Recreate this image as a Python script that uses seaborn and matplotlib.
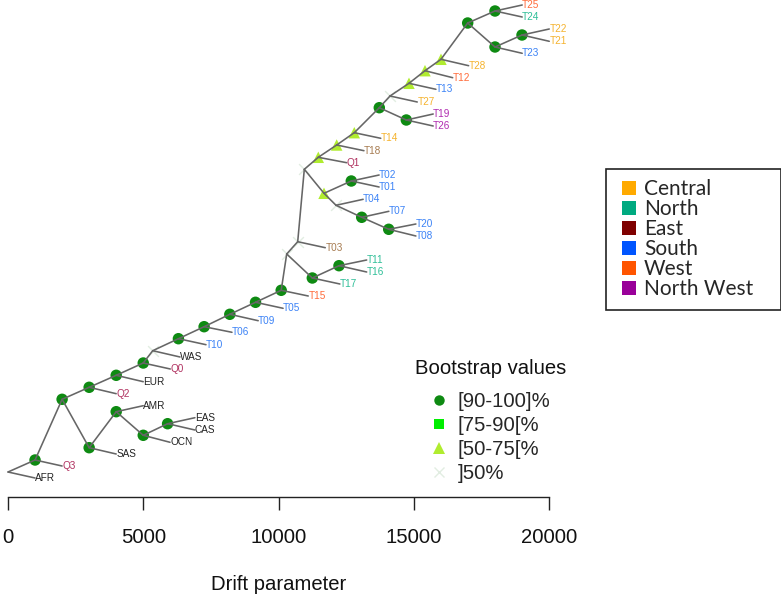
import matplotlib
matplotlib.use('Agg')
import matplotlib.pyplot as plt
from matplotlib.lines import Line2D
import pandas as pd
import seaborn as sns

# --- internal nodes of the tree ---
node_names = ['root', 'n01', 'n02', 'n03', 'n04', 'n05', 'n06', 'n07', 'n08', 'n09', 'n10', 'n11',
              'n12', 'n13', 'n14', 'n15', 'n16', 'n17', 'n18', 'n19', 'n20', 'n21', 'n22', 'n23',
              'n24', 'n25', 'n26', 'n27', 'n28', 'n29', 'n30', 'n31', 'n32', 'n33', 'n34',
              'n35', 'n36', 'n37', 'n38']
node_drift = [0, 1000, 2000, 3000, 4000, 5000, 5350, 6300, 7250, 8200, 9150, 10100,
              10303, 10710, 11250, 12236, 10954, 11471, 12151, 12802, 13726, 14725, 14122, 14824,
              15416, 16007, 16994, 18004, 18004, 19002, 11682, 12691, 12126, 13076, 14074,
              3000, 4000, 5000, 5900]
node_pos = [472, 460, 399.3, 387.3, 375.3, 363, 350.7, 338.7, 326.7, 314.3, 302.3, 290.3,
            254, 241.7, 278, 265.7, 169.3, 157.3, 145, 132.7, 107.7, 120, 96, 83.3,
            70.7, 59.3, 23, 11, 47, 35, 193.3, 181, 205.3, 217.3, 229.3,
            447.7, 411.7, 435.3, 423.7]
node_parent = [None, 'root', 'n01', 'n02', 'n03', 'n04', 'n05', 'n06', 'n07', 'n08', 'n09', 'n10',
               'n11', 'n12', 'n12', 'n14', 'n13', 'n16', 'n17', 'n18', 'n19', 'n20', 'n20', 'n22',
               'n23', 'n24', 'n25', 'n26', 'n26', 'n28', 'n16', 'n30', 'n30', 'n32', 'n33',
               'n02', 'n35', 'n36', 'n37']
node_support = ['none', '90', '90', '90', '90', '90', 'low', '90', '90', '90', '90', '90',
                'low', 'low', '90', '90', 'low', '50', '50', '50', '90', '90', 'low', '50',
                '50', '50', '90', '90', '90', '90', '50', '90', 'low', '90', '90',
                '90', '90', '90', '90']

# --- tips ---
tip_names = ['AFR', 'Q3', 'Q2', 'EUR', 'Q0', 'WAS', 'T10', 'T06', 'T09', 'T05', 'T15', 'T03', 'T17',
             'T11', 'T16', 'Q1', 'T18', 'T14', 'T02', 'T01', 'T04', 'T07', 'T20', 'T08', 'T19', 'T26',
             'T27', 'T13', 'T12', 'T28', 'T25', 'T24', 'T23', 'T22', 'T21', 'SAS', 'AMR', 'OCN', 'EAS', 'CAS']
tip_drift = [1000, 2000, 4000, 5000, 6000, 6360, 7320, 8280, 9250, 10170, 11100, 11730, 12270,
             13260, 13260, 12520, 13160, 13780, 13720, 13720, 13130, 14080, 15080, 15080, 15720, 15720,
             15130, 15820, 16440, 17030, 19010, 19010, 19010, 20010, 20010, 4000, 5000, 5990, 6910, 6910]
tip_pos = [478, 466, 393.7, 381.7, 369, 357, 344.7, 332.3, 320.7, 308.3, 296, 247.7, 284,
           260, 272, 162.7, 150.7, 138.3, 175, 187, 199.3, 211.3, 224, 236, 114, 126,
           102, 89.3, 77.7, 65.7, 5, 17, 53.3, 29, 41.3, 454, 405.7, 442.3, 417.7, 430]
tip_parent = ['root', 'n01', 'n03', 'n04', 'n05', 'n06', 'n07', 'n08', 'n09', 'n10', 'n11', 'n13', 'n14',
              'n15', 'n15', 'n17', 'n18', 'n19', 'n31', 'n31', 'n32', 'n33', 'n34', 'n34', 'n21', 'n21',
              'n22', 'n23', 'n24', 'n25', 'n27', 'n27', 'n28', 'n29', 'n29', 'n35', 'n36', 'n37', 'n38', 'n38']
tip_group = ['Ref', 'Q', 'Q', 'Ref', 'Q', 'Ref', 'South', 'South', 'South', 'South', 'West', 'East', 'North',
             'North', 'North', 'Q', 'East', 'Central', 'South', 'South', 'South', 'South', 'South', 'South',
             'North West', 'North West', 'Central', 'South', 'West', 'Central', 'West', 'North', 'South',
             'Central', 'Central', 'Ref', 'Ref', 'Ref', 'Ref', 'Ref']

# legend content
region_labels = ['Central', 'North', 'East', 'South', 'West', 'North West']
region_colors = ['#FFAA00', '#00AA80', '#7F0000', '#0055FF', '#FF5500', '#990099']
support_keys = ['90', '75', '50', 'low']
support_labels = ['[90-100]%', '[75-90[%', '[50-75[%', ']50%']
support_colors = ['#0E8A12', '#00EE00', '#B0EC2F', '#E2EDE2']
support_markers = ['o', 's', '^', 'x']
xticks = [0, 5000, 10000, 15000, 20000]

text_colors = {'Ref': '#222222', 'Q': '#B0305F', 'East': '#A67B50', 'Central': '#F5B32E', 'North': '#2FBF98',
               'South': '#3B82F6', 'West': '#FF6B3A', 'North West': '#B02CB0'}

nodes = pd.DataFrame({'name': node_names, 'drift': node_drift, 'pos': node_pos,
                      'parent': node_parent, 'support': node_support})
tips = pd.DataFrame({'name': tip_names, 'drift': tip_drift, 'pos': tip_pos,
                     'parent': tip_parent, 'group': tip_group})

# long table of branches, two rows per branch
lookup = nodes.set_index('name')
rows = []
for table in (nodes[nodes['parent'].notna()], tips):
    for _, r in table.iterrows():
        p = lookup.loc[r['parent']]
        rows.append({'edge': r['name'], 'drift': p['drift'], 'pos': p['pos']})
        rows.append({'edge': r['name'], 'drift': r['drift'], 'pos': r['pos']})
edges = pd.DataFrame(rows)

sns.set_style('white')
fig = plt.figure(figsize=(7.81, 5.96), dpi=100)
ax = fig.add_axes([0, 0, 1, 1])

shown = nodes[nodes['support'] != 'none']
sns.scatterplot(data=shown[shown['support'] != 'low'], x='drift', y='pos', hue='support', style='support',
                hue_order=support_keys, style_order=support_keys,
                palette=dict(zip(support_keys, support_colors)),
                markers={'90': 'o', '75': 's', '50': '^', 'low': 'X'},
                s=68, linewidth=0, legend=False, ax=ax)
sns.scatterplot(data=shown[shown['support'] == 'low'], x='drift', y='pos', color=support_colors[3],
                marker='x', s=60, linewidth=1, legend=False, ax=ax)
sns.lineplot(data=edges, x='drift', y='pos', units='edge', estimator=None, sort=False,
             color='#666666', linewidth=1.15, legend=False, ax=ax)

for _, t in tips.iterrows():
    ax.text(t['drift'], t['pos'], t['name'], color=text_colors[t['group']], fontsize=7.2,
            family='Liberation Sans', ha='left', va='center')

# plot area is the whole figure, mapped so the tree sits where it should
ax.set_xlim(-296, 28577)
ax.set_ylim(596, 0)
ax.set_ylabel('')
ax.set_yticks([])
for side in ['top', 'left', 'right']:
    ax.spines[side].set_visible(False)
ax.spines['bottom'].set_position(('data', 497))
ax.spines['bottom'].set_bounds(0, 20000)
ax.spines['bottom'].set_linewidth(1)
ax.spines['bottom'].set_color('#222222')
ax.set_xticks(xticks)
ax.tick_params(axis='x', bottom=True, length=9, width=1, color='#222222', pad=13, labelsize=14.6, labelcolor='#111111')
ax.set_xlabel('Drift parameter', fontsize=14.6, color='#111111', va='center')
ax.xaxis.set_label_coords(279 / 781, 1 - 584 / 596)
ax.patch.set_alpha(0)

# bootstrap legend
boot_handles = [Line2D([], [], linestyle='', marker=m, color=c, markersize=ms, markeredgewidth=1 if m == 'x' else 0)
                for m, c, ms in zip(support_markers, support_colors, [7.5, 6.5, 8, 7.5])]
boot = ax.legend(boot_handles, support_labels, title='Bootstrap values', frameon=False,
                 loc='upper left', bbox_to_anchor=(401 / 781, 1 - 345 / 596), fontsize=14.6, title_fontsize=14.6,
                 labelspacing=0.24, handletextpad=-0.25, handlelength=2.36, borderpad=0.2)
boot._legend_box.align = 'left'
boot._legend_box.sep = 10
boot.get_title().set_color('#111111')
ax.add_artist(boot)

# region legend, square markers centred in a wide handle box
region_handles = [Line2D([], [], linestyle='', marker='s', color=c, markersize=9.4, markeredgewidth=0)
                  for c in region_colors]
reg = ax.legend(region_handles, region_labels, loc='upper left',
                bbox_to_anchor=(606 / 781, 1 - 169 / 596 - 0.01, 174.5 / 781, 0.01),
                prop={'family': 'Lato', 'size': 15}, frameon=True, fancybox=False, framealpha=1, mode='expand',
                edgecolor='#222222', labelspacing=0, handlelength=1.2,
                handletextpad=0.125, borderaxespad=0, borderpad=0.5)
reg.get_frame().set_linewidth(1.2)

for t in ax.get_xticklabels() + [ax.xaxis.label] + boot.get_texts() + [boot.get_title()]:
    t.set_family('Liberation Sans')

fig.savefig('out.png', dpi=100)
